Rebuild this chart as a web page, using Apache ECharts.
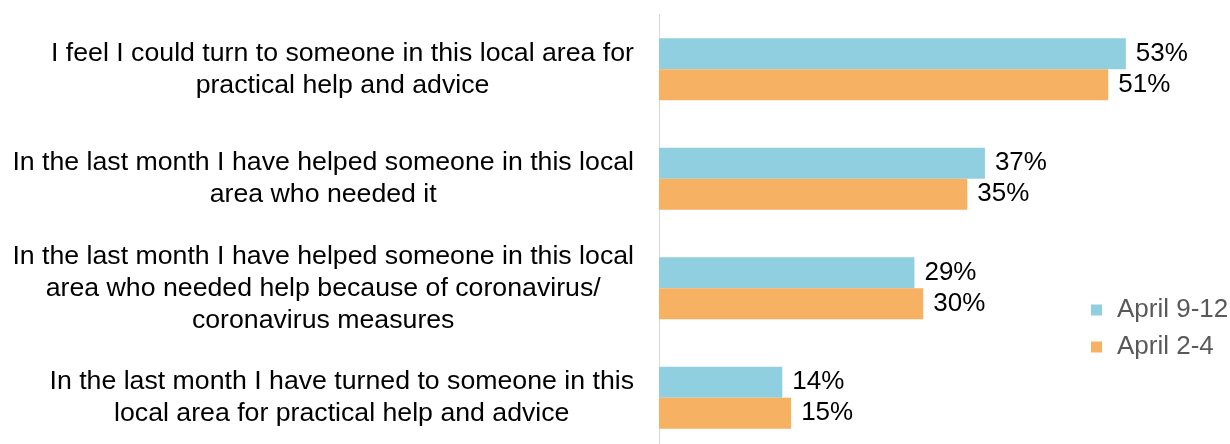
<!DOCTYPE html>
<html>
<head>
<meta charset="utf-8">
<script src="https://cdn.jsdelivr.net/npm/echarts@6/dist/echarts.min.js"></script>
<style>
html,body{margin:0;padding:0;background:#fff;}
#chart{width:1230px;height:444px;}
</style>
</head>
<body>
<div id="chart"></div>
<script>
const categories = [
  "I feel I could turn to someone in this local area for\npractical help and advice",
  "In the last month I have helped someone in this local\narea who needed it",
  "In the last month I have helped someone in this local\narea who needed help because of coronavirus/\ncoronavirus measures",
  "In the last month I have turned to someone in this\nlocal area for practical help and advice"
];
const seriesNames = ["April 9-12", "April 2-4"];
const april9to12 = [53, 37, 29, 14];
const april2to4 = [51, 35, 30, 15];
const colors = ["#8FCFDF", "#F7B162"];

const FONT = "'Liberation Sans', Arial, sans-serif";
const chart = echarts.init(document.getElementById('chart'));

const labelCfg = {
  show: true,
  position: 'right',
  distance: 10,
  formatter: '{c}%',
  fontSize: 26,
  fontFamily: FONT,
  color: '#000'
};

chart.setOption({
  animation: false,
  color: colors,
  grid: { left: 659, right: 42.5, top: 14.5, height: 438, containLabel: false, outerBoundsMode: 'none' },
  legend: {
    orient: 'vertical',
    left: 1086,
    top: 292,
    itemWidth: 11,
    itemHeight: 11,
    itemGap: 11,
    icon: 'rect',
    data: seriesNames,
    textStyle: { fontSize: 26, fontFamily: FONT, color: '#595959', padding: [0, 0, 0, 10] }
  },
  xAxis: {
    type: 'value',
    min: 0,
    max: 60,
    show: false
  },
  yAxis: {
    type: 'category',
    inverse: true,
    data: categories,
    axisLine: { show: true, lineStyle: { color: '#D9D9D9', width: 1 } },
    axisTick: { show: false },
    axisLabel: {
      margin: 25,
      fontSize: 26.7,
      fontFamily: FONT,
      color: '#000',
      lineHeight: 32,
      formatter: function (v) {
        return v.split('\n').map(function (l) { return '{c|' + l + '}'; }).join('\n');
      },
      rich: {
        c: { align: 'center', fontSize: 26.7, fontFamily: FONT, color: '#000', lineHeight: 32 }
      }
    },
    splitLine: { show: false }
  },
  series: [
    {
      name: seriesNames[0],
      type: 'bar',
      data: april9to12,
      barWidth: 31,
      barGap: '0%',
      label: labelCfg
    },
    {
      name: seriesNames[1],
      type: 'bar',
      data: april2to4,
      barWidth: 31,
      barGap: '0%',
      label: labelCfg
    }
  ]
});
</script>
</body>
</html>
